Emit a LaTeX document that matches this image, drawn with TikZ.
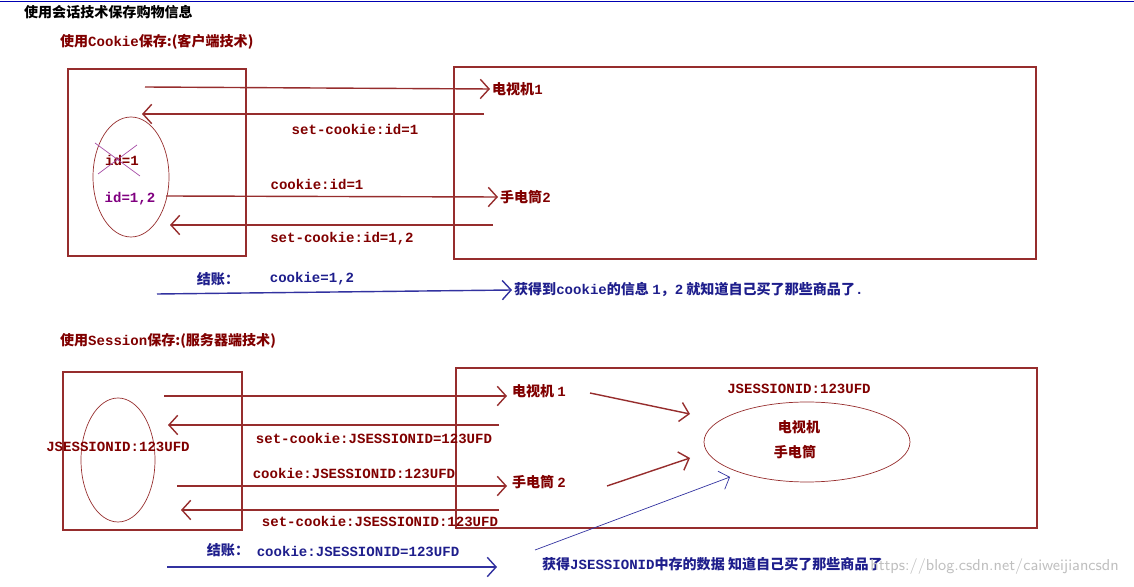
\documentclass[tikz,border=0pt]{standalone}
\usepackage{fontspec}
\setmainfont{Noto Sans CJK SC}
\setmonofont{Liberation Mono}
\usetikzlibrary{arrows.meta,positioning}
\definecolor{dred}{RGB}{128,0,0}
\definecolor{lred}{RGB}{150,45,45}
\definecolor{dblue}{RGB}{30,30,140}
\definecolor{lblue}{RGB}{50,50,160}
\definecolor{dpurple}{RGB}{128,0,128}
\tikzstyle{arrow}=[draw,-{Straight Barb[length=5pt,width=11pt]},lred,thick]
\tikzstyle{barrow}=[draw,-{Straight Barb[length=5pt,width=11pt]},lblue,thick]
\tikzstyle{frame}=[draw,lred,thick]
\tikzstyle{lbl}=[font=\fontsize{8}{10}\selectfont\bfseries,text=dred,inner sep=1pt]
\tikzstyle{code}=[font=\fontsize{8}{10}\selectfont\ttfamily\bfseries,text=dred,inner sep=1pt]
\begin{document}
\begin{tikzpicture}[x=0.02cm,y=-0.02cm]
\useasboundingbox (0,0) rectangle (1134,587);
\draw[blue!70!black] (0,1) -- (1134,1);
\node[lbl,text=black,anchor=west] (title) at (22,12) {使用会话技术保存购物信息};

% cookie
\node[lbl,anchor=west] (ctitle) at (58,42) {使用\texttt{Cookie}保存:(客户端技术)};
\draw[frame] (68,69) rectangle (246,256);
\draw[frame] (454,67) rectangle (1036,259);
\draw[frame,thin] (131,177) ellipse [x radius=38,y radius=60];
\node[code] (id1) at (122,160) {id=1};
\draw[dpurple!70,thin] (95,143) -- (140,176) (137,145) -- (98,174);
\node[code,text=dpurple] (id12) at (130,199) {id=1,2};

\coordinate (a1s) at (145,87);
\node[lbl,anchor=west] (tv) at (490,89) {电视机\texttt{1}};
\draw[arrow] (a1s) -- (tv.west);
\coordinate (a2s) at (484,114); \coordinate (a2e) at (142,114);
\draw[arrow] (a2s) -- (a2e);
\node[code] (sc1) at (355,129) {set-cookie:id=1};
\node[code] (c1) at (317,184) {cookie:id=1};
\coordinate (a3s) at (166,196);
\node[lbl,anchor=west] (torch) at (498,197) {手电筒\texttt{2}};
\draw[arrow] (a3s) -- (torch.west);
\coordinate (a4s) at (493,225); \coordinate (a4e) at (170,225);
\draw[arrow] (a4s) -- (a4e);
\node[code] (sc12) at (342,239) {set-cookie:id=1,2};
\node[lbl,text=dblue] (pay1) at (218,279) {结账：};
\node[code,text=dblue] (c12) at (312,279) {cookie=1,2};
\coordinate (a5s) at (157,294);
\node[lbl,text=dblue,anchor=west] (res1) at (512,290) {获得到\texttt{cookie}的信息 \texttt{1}，\texttt{2} 就知道自己买了那些商品了\texttt{.}};
\draw[barrow] (a5s) -- (res1.west);

% session
\node[lbl,anchor=west] (stitle) at (58,341) {使用\texttt{Session}保存:(服务器端技术)};
\draw[frame] (63,372) rectangle (242,530);
\draw[frame] (456,368) rectangle (1037,528);
\draw[frame,thin] (118,460) ellipse [x radius=37,y radius=62];
\node[code] (sid) at (118,447) {JSESSIONID:123UFD};

\coordinate (b1s) at (164,396);
\node[lbl,anchor=west] (stv) at (510,391) {电视机 \texttt{1}};
\draw[arrow] (b1s) -- (507,396);
\coordinate (b2s) at (499,425); \coordinate (b2e) at (168,425);
\draw[arrow] (b2s) -- (b2e);
\node[code] (ssc1) at (374,438) {set-cookie:JSESSIONID=123UFD};
\node[code] (sc) at (354,473) {cookie:JSESSIONID:123UFD};
\coordinate (b3s) at (177,486);
\node[lbl,anchor=west] (storch) at (510,482) {手电筒 \texttt{2}};
\draw[arrow] (b3s) -- (507,486);
\coordinate (b4s) at (499,510); \coordinate (b4e) at (181,510);
\draw[arrow] (b4s) -- (b4e);
\node[code] (ssc2) at (380,521) {set-cookie:JSESSIONID:123UFD};

\node[code] (sid2) at (799,389) {JSESSIONID:123UFD};
\draw[frame,thin] (807,442) ellipse [x radius=103,y radius=40];
\node[lbl] (stv2) at (799,427) {电视机};
\node[lbl] (storch2) at (795,452) {手电筒};
\coordinate (b5s) at (590,393); \coordinate (b5e) at (690,414);
\coordinate (b6s) at (607,486); \coordinate (b6e) at (690,458);
\draw[arrow] (b5s) -- (b5e);
\draw[arrow] (b6s) -- (b6e);

\node[lbl,text=dblue] (pay2) at (228,550) {结账：};
\node[code,text=dblue] (sc2) at (358,551) {cookie:JSESSIONID=123UFD};
\coordinate (b7s) at (167,567);
\draw[barrow] (b7s) -- (497,567);
\node[lbl,text=dblue,anchor=west] (res2) at (540,564) {获得\texttt{JSESSIONID}中存的数据 知道自己买了那些商品了};
\coordinate (b8s) at (535,550); \coordinate (b8e) at (730,477);
\draw[barrow,thin] (b8s) -- (b8e);
\node[anchor=west,text=black!25,font=\fontsize{9}{10}\selectfont\sffamily,inner sep=0pt] (wm) at (870,567) {https://blog.csdn.net/caiweijiancsdn};
\end{tikzpicture}
\end{document}
